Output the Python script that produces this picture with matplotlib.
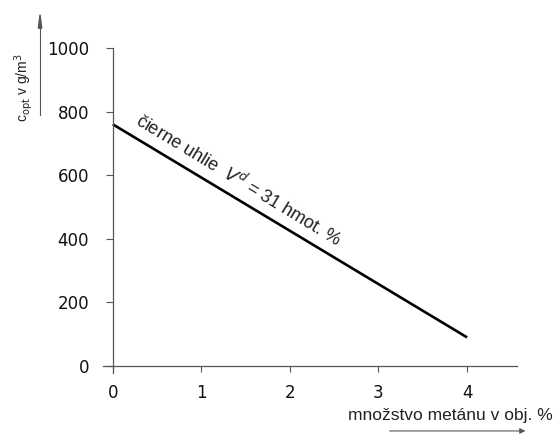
import matplotlib.pyplot as plt
import numpy as np

# methane content (vol. %) and optimal concentration (g/m3)
metan = [0, 4]
c_opt = [760, 90]

x_ticks = [0, 1, 2, 3, 4]
y_ticks = [0, 200, 400, 600, 800, 1000]

plt.rcParams['font.family'] = ['Liberation Sans', 'DejaVu Sans']

fig = plt.figure(figsize=(5.56, 4.34), dpi=100)
ax = fig.add_axes([0.1853, 0.1406, 0.7447, 0.7489])

ax.plot(metan, c_opt, color='black', lw=1.9, solid_capstyle='butt')

ax.set_xlim(-0.11, 4.565)
ax.set_ylim(-22, 1000)
ax.spines['top'].set_visible(False)
ax.spines['right'].set_visible(False)
ax.spines['left'].set_position(('data', 0))
ax.spines['bottom'].set_position(('data', 0))
for s in ['left', 'bottom']:
    ax.spines[s].set_color('#555555')
    ax.spines[s].set_linewidth(0.9)

ax.set_xticks(x_ticks)
ax.set_yticks(y_ticks)
ax.tick_params(axis='y', direction='out', length=5, pad=12, colors='#555555', labelcolor='#111111')
ax.tick_params(axis='x', direction='out', length=4, pad=9, colors='#555555', labelcolor='#111111')
for lab in ax.get_xticklabels() + ax.get_yticklabels():
    lab.set_family('DejaVu Sans')
    lab.set_fontsize(12)

# label along the line, lifted a bit above it
slope = (c_opt[1] - c_opt[0]) / (metan[1] - metan[0])
x0 = 0.24
ax.text(x0, c_opt[0] + slope * x0 + 40, r'čierne uhlie  $V^{d}$ = 31 hmot. %', rotation=-31.2,
        rotation_mode='anchor', ha='left', va='baseline', fontsize=13, color='#222222')

# axis titles with arrows
fig.text(0.043, 0.797, r'c$_{\rm opt}$ v g/m$^3$', rotation=90, ha='center', va='center',
         fontsize=10, color='#222222')
fig.add_artist(plt.Line2D([0.072, 0.072], [0.735, 0.955], color='#555555', lw=0.8))
fig.add_artist(plt.Polygon([[0.069, 0.935], [0.075, 0.935], [0.072, 0.966]], color='#555555'))

fig.text(0.995, 0.0415, 'množstvo metánu v obj. %', ha='right', va='center',
         fontsize=12.5, color='#222222')
ax.annotate('', xy=(0.950, 0.007), xytext=(0.696, 0.007), xycoords='figure fraction',
            arrowprops=dict(arrowstyle='-|>', color='#555555', lw=0.8, mutation_scale=8))

fig.savefig('out.png', dpi=100, facecolor='white')
